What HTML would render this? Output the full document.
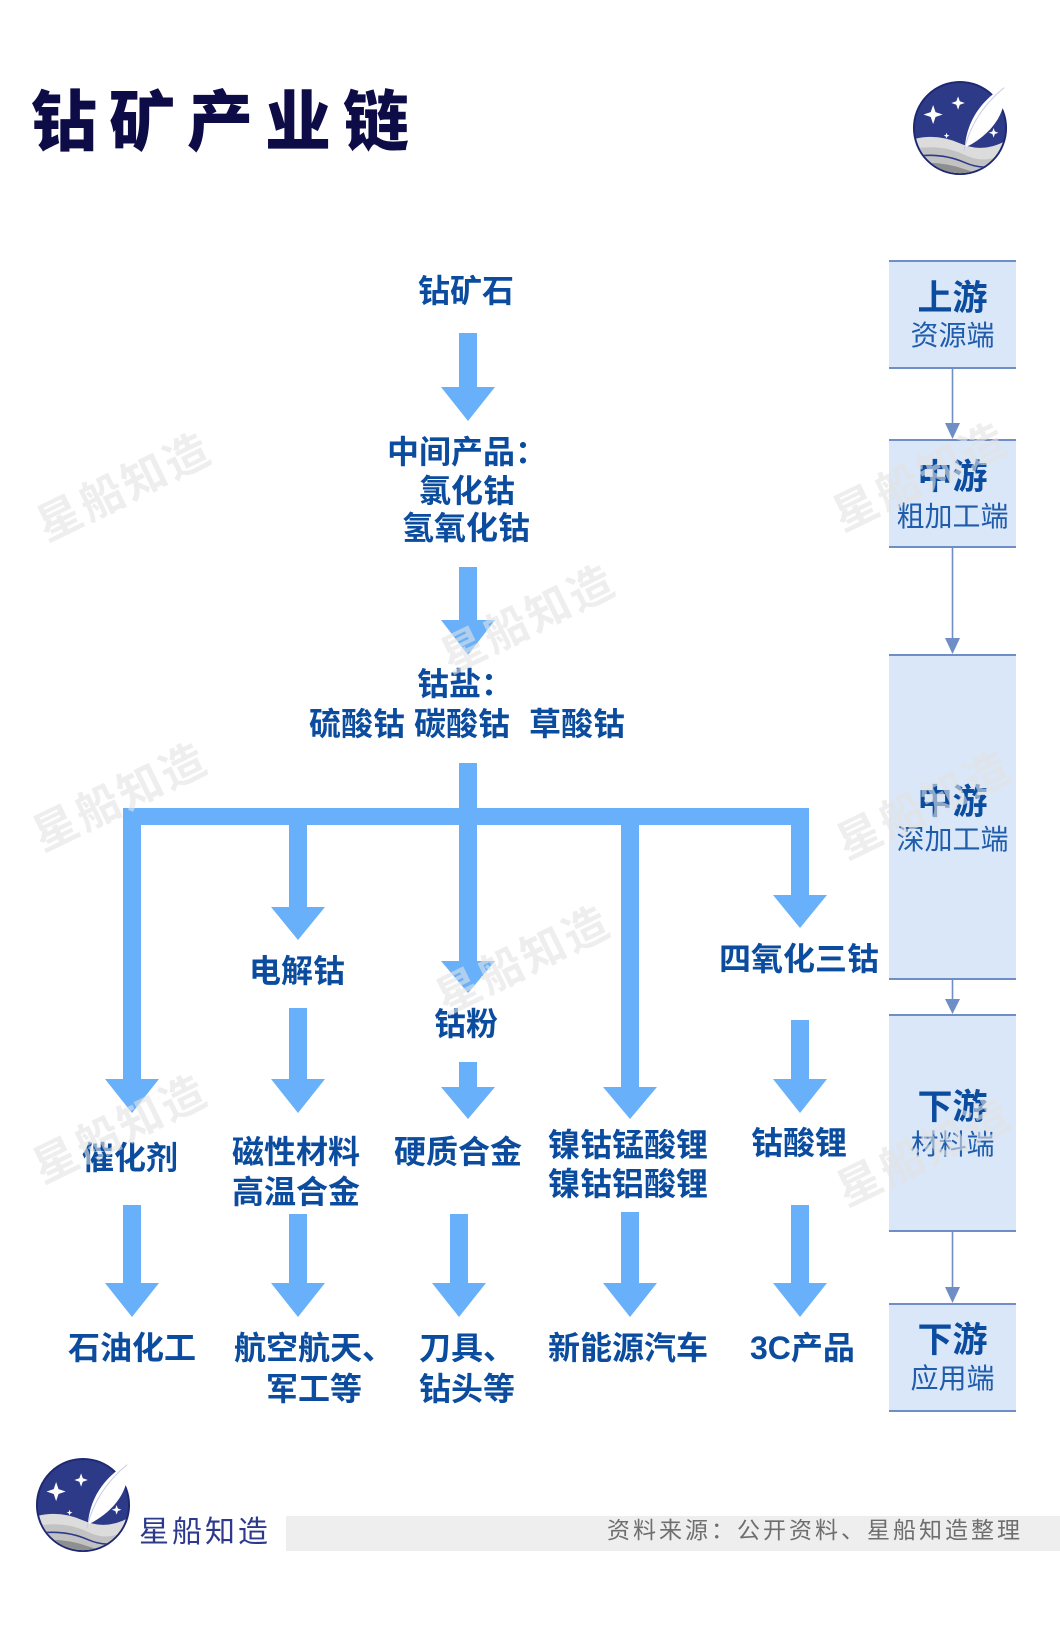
<!DOCTYPE html>
<html><head><meta charset="utf-8">
<style>
html,body{margin:0;padding:0;background:#fff;}
#pg{position:relative;width:1060px;height:1652px;overflow:hidden;background:#fff;font-family:"Liberation Sans","Noto Sans CJK SC",sans-serif;}
.t{position:absolute;font-size:32px;line-height:32px;font-weight:bold;color:#0b4c9f;white-space:nowrap;}
.bt{position:absolute;left:889px;width:127px;text-align:center;white-space:nowrap;line-height:1;}
.b1{font-size:35px;font-weight:bold;color:#0b4c9f;}
.b2{font-size:28px;font-weight:normal;color:#1f5cab;}
.wm{position:absolute;font-size:44px;line-height:44px;font-weight:bold;color:rgba(226,226,226,0.6);letter-spacing:3px;white-space:nowrap;transform:translate(-50%,-50%) rotate(-26deg);}
</style></head>
<body><div id="pg">

<!-- Title -->
<div style="position:absolute;left:31px;top:89px;font-size:66px;line-height:66px;font-weight:900;letter-spacing:12px;color:#0d0c46;white-space:nowrap;">钻矿产业链</div>

<!-- Logos -->
<svg style="position:absolute;left:912px;top:80px" width="96" height="96" viewBox="0 0 100 100">
<defs><clipPath id="c1"><circle cx="50" cy="50" r="47"/></clipPath></defs>
<circle cx="50" cy="50" r="48" fill="#2d3a88" stroke="#1d2870" stroke-width="2"/>
<g clip-path="url(#c1)">
<path d="M0 62 Q25 55 50 66 T100 62 V100 H0Z" fill="#dcdcdc"/>
<path d="M0 72 Q30 66 55 78 T100 72 V100 H0Z" fill="#c2c2c2"/>
<path d="M0 80 Q30 75 55 86 T100 82" fill="none" stroke="#2d3a88" stroke-width="1.6"/>
<path d="M0 87 Q30 84 55 93 T100 90 V100 H0Z" fill="#8f8f8f"/>
</g>
<path d="M55 70 C57 45 70 22 97 6 C99 30 88 52 60 68 Z" fill="#fff"/>
<path d="M54 74 C60 48 74 26 96 8" fill="none" stroke="#c8cbe0" stroke-width="1"/>
<path d="M22 26 L24.5 33.5 L32 36 L24.5 38.5 L22 46 L19.5 38.5 L12 36 L19.5 33.5Z" fill="#fff"/>
<path d="M48 17 L49.8 22.2 L55 24 L49.8 25.8 L48 31 L46.2 25.8 L41 24 L46.2 22.2Z" fill="#fff"/>
<path d="M85 50 L86.3 53.7 L90 55 L86.3 56.3 L85 60 L83.7 56.3 L80 55 L83.7 53.7Z" fill="#fff"/>
<path d="M36 55 L36.8 57.2 L39 58 L36.8 58.8 L36 61 L35.2 58.8 L33 58 L35.2 57.2Z" fill="#fff"/>
</svg>

<svg style="position:absolute;left:35px;top:1457px" width="96" height="96" viewBox="0 0 100 100">
<defs><clipPath id="c2"><circle cx="50" cy="50" r="47"/></clipPath></defs>
<circle cx="50" cy="50" r="48" fill="#2d3a88" stroke="#1d2870" stroke-width="2"/>
<g clip-path="url(#c2)">
<path d="M0 62 Q25 55 50 66 T100 62 V100 H0Z" fill="#dcdcdc"/>
<path d="M0 72 Q30 66 55 78 T100 72 V100 H0Z" fill="#c2c2c2"/>
<path d="M0 80 Q30 75 55 86 T100 82" fill="none" stroke="#2d3a88" stroke-width="1.6"/>
<path d="M0 87 Q30 84 55 93 T100 90 V100 H0Z" fill="#8f8f8f"/>
</g>
<path d="M55 70 C57 45 70 22 97 6 C99 30 88 52 60 68 Z" fill="#fff"/>
<path d="M54 74 C60 48 74 26 96 8" fill="none" stroke="#c8cbe0" stroke-width="1"/>
<path d="M22 26 L24.5 33.5 L32 36 L24.5 38.5 L22 46 L19.5 38.5 L12 36 L19.5 33.5Z" fill="#fff"/>
<path d="M48 17 L49.8 22.2 L55 24 L49.8 25.8 L48 31 L46.2 25.8 L41 24 L46.2 22.2Z" fill="#fff"/>
<path d="M85 50 L86.3 53.7 L90 55 L86.3 56.3 L85 60 L83.7 56.3 L80 55 L83.7 53.7Z" fill="#fff"/>
<path d="M36 55 L36.8 57.2 L39 58 L36.8 58.8 L36 61 L35.2 58.8 L33 58 L35.2 57.2Z" fill="#fff"/>
</svg>

<!-- Arrows & boxes -->
<svg style="position:absolute;left:0;top:0" width="1060" height="1652">
<g fill="#68b0fa">
<polygon points="459,333 477,333 477,387 495,387 468,421 441,387 459,387"/>
<polygon points="459,567 477,567 477,620 495,620 468,655 441,620 459,620"/>
<polygon points="459,763 477,763 477,961 495,961 468,993 441,961 459,961"/>
<rect x="123" y="808" width="686" height="17"/>
<polygon points="123,808 141,808 141,1079 159,1079 132,1113 105,1079 123,1079"/>
<polygon points="289,820 307,820 307,907 325,907 298,940 271,907 289,907"/>
<polygon points="621,820 639,820 639,1087 657,1087 630,1119 603,1087 621,1087"/>
<polygon points="791,808 809,808 809,895 827,895 800,928 773,895 791,895"/>
<polygon points="289,1008 307,1008 307,1079 325,1079 298,1113 271,1079 289,1079"/>
<polygon points="459,1062 477,1062 477,1087 495,1087 468,1119 441,1087 459,1087"/>
<polygon points="791,1020 809,1020 809,1079 827,1079 800,1113 773,1079 791,1079"/>
<polygon points="123,1205 141,1205 141,1283 159,1283 132,1317 105,1283 123,1283"/>
<polygon points="289,1214 307,1214 307,1283 325,1283 298,1317 271,1283 289,1283"/>
<polygon points="450,1214 468,1214 468,1283 486,1283 459,1317 432,1283 450,1283"/>
<polygon points="621,1212 639,1212 639,1283 657,1283 630,1317 603,1283 621,1283"/>
<polygon points="791,1205 809,1205 809,1283 827,1283 800,1317 773,1283 791,1283"/>
</g>
<g fill="#dae7f8">
<rect x="889" y="261" width="127" height="107"/>
<rect x="889" y="440" width="127" height="107"/>
<rect x="889" y="655" width="127" height="324"/>
<rect x="889" y="1015" width="127" height="216"/>
<rect x="889" y="1304" width="127" height="107"/>
</g>
<g stroke="#6f8ec6" stroke-width="2">
<line x1="889" y1="261" x2="1016" y2="261"/><line x1="889" y1="368" x2="1016" y2="368"/>
<line x1="889" y1="440" x2="1016" y2="440"/><line x1="889" y1="547" x2="1016" y2="547"/>
<line x1="889" y1="655" x2="1016" y2="655"/><line x1="889" y1="979" x2="1016" y2="979"/>
<line x1="889" y1="1015" x2="1016" y2="1015"/><line x1="889" y1="1231" x2="1016" y2="1231"/>
<line x1="889" y1="1304" x2="1016" y2="1304"/><line x1="889" y1="1411" x2="1016" y2="1411"/>
</g>
<g stroke="#6f8ec6" stroke-width="1.6">
<line x1="952.5" y1="369" x2="952.5" y2="428"/>
<line x1="952.5" y1="548" x2="952.5" y2="643"/>
<line x1="952.5" y1="980" x2="952.5" y2="1003"/>
<line x1="952.5" y1="1232" x2="952.5" y2="1292"/>
</g>
<g fill="#6f8ec6">
<polygon points="945,423 960,423 952.5,439"/>
<polygon points="945,638 960,638 952.5,654"/>
<polygon points="945,999 960,999 952.5,1014"/>
<polygon points="945,1287 960,1287 952.5,1303"/>
</g>
<rect x="286" y="1516" width="774" height="35" fill="#eeeeee"/>
</svg>

<!-- Main flow texts -->
<div class="t" style="left:418px;top:275px;">钻矿石</div>
<div class="t" style="left:387px;top:436px;">中间产品：</div>
<div class="t" style="left:419px;top:475px;">氯化钴</div>
<div class="t" style="left:402px;top:512px;">氢氧化钴</div>
<div class="t" style="left:417px;top:668px;">钴盐：</div>
<div class="t" style="left:309px;top:708px;">硫酸钴</div>
<div class="t" style="left:414px;top:708px;">碳酸钴</div>
<div class="t" style="left:529px;top:708px;">草酸钴</div>

<div class="t" style="left:249px;top:955px;">电解钴</div>
<div class="t" style="left:434px;top:1008px;">钴粉</div>
<div class="t" style="left:719px;top:943px;">四氧化三钴</div>

<div class="t" style="left:82px;top:1142px;">催化剂</div>
<div class="t" style="left:232px;top:1136px;">磁性材料</div>
<div class="t" style="left:232px;top:1176px;">高温合金</div>
<div class="t" style="left:394px;top:1136px;">硬质合金</div>
<div class="t" style="left:548px;top:1129px;">镍钴锰酸锂</div>
<div class="t" style="left:548px;top:1168px;">镍钴铝酸锂</div>
<div class="t" style="left:751px;top:1127px;">钴酸锂</div>

<div class="t" style="left:68px;top:1332px;">石油化工</div>
<div class="t" style="left:234px;top:1332px;">航空航天、</div>
<div class="t" style="left:266px;top:1373px;">军工等</div>
<div class="t" style="left:419px;top:1332px;">刀具、</div>
<div class="t" style="left:419px;top:1373px;">钻头等</div>
<div class="t" style="left:548px;top:1332px;">新能源汽车</div>
<div class="t" style="left:750px;top:1332px;">3C产品</div>

<!-- Right column texts -->
<div class="bt b1" style="top:281px;">上游</div>
<div class="bt b2" style="top:322px;">资源端</div>
<div class="bt b1" style="top:460px;">中游</div>
<div class="bt b2" style="top:503px;">粗加工端</div>
<div class="bt b1" style="top:785px;">中游</div>
<div class="bt b2" style="top:826px;">深加工端</div>
<div class="bt b1" style="top:1090px;">下游</div>
<div class="bt b2" style="top:1131px;">材料端</div>
<div class="bt b1" style="top:1323px;">下游</div>
<div class="bt b2" style="top:1365px;">应用端</div>

<!-- Footer -->
<div style="position:absolute;left:139px;top:1518px;font-size:30px;line-height:30px;letter-spacing:3px;color:#2d3a8c;white-space:nowrap;">星船知造</div>
<div style="position:absolute;left:607px;top:1519px;font-size:23px;line-height:23px;letter-spacing:3px;color:#6e6e6e;white-space:nowrap;">资料来源：公开资料、星船知造整理</div>

<!-- Watermarks -->
<div class="wm" style="left:125px;top:488px;">星船知造</div>
<div class="wm" style="left:529px;top:620px;">星船知造</div>
<div class="wm" style="left:121px;top:798px;">星船知造</div>
<div class="wm" style="left:921px;top:478px;">星船知造</div>
<div class="wm" style="left:925px;top:806px;">星船知造</div>
<div class="wm" style="left:524px;top:961px;">星船知造</div>
<div class="wm" style="left:121px;top:1130px;">星船知造</div>
<div class="wm" style="left:925px;top:1153px;">星船知造</div>

</div></body></html>
